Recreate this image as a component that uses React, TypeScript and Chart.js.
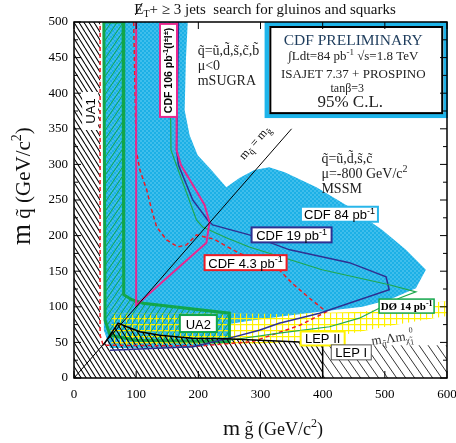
import React, { useEffect, useRef } from 'react';
import { Chart, registerables } from 'chart.js';
Chart.register(...registerables);

const X_TICKS = [0, 100, 200, 300, 400, 500, 600];
const Y_TICKS = [0, 50, 100, 150, 200, 250, 300, 350, 400, 450, 500];

// CDF 84 pb-1 excluded region (blue)
const CDF84_X = [48, 183, 180, 178, 186, 199, 221, 245, 266, 290, 314, 339, 390, 443, 496, 534, 566, 550, 507, 464, 395, 330, 280, 250, 250, 191, 58, 48, 48];
const CDF84_Y = [500, 500, 447, 376, 341, 313, 292, 268, 281, 292, 296, 289, 268, 240, 208, 180, 152, 126, 110, 100, 93, 86, 80, 76, 50, 43, 42, 67, 500];

// UA2 region (green hatch)
const UA2_X = [48, 79, 80, 93, 111, 250, 250, 98, 58, 50, 48];
const UA2_Y = [500, 500, 117, 110, 105, 91, 51, 53, 60, 81, 500];

// LEP II region (yellow grid)
const LEP2_X = [60, 60, 250, 330, 464, 544, 600, 600, 520, 443, 363, 300, 60];
const LEP2_Y = [46, 91, 91, 90, 93, 103, 108, 87, 75, 62, 52, 48, 46];

// UA1 + LEP I excluded (dense black hatch)
const UA1_X = [0, 0, 42, 42, 47, 71, 85, 106, 138, 191, 245, 326, 400, 400, 0];
const UA1_Y = [0, 500, 500, 46, 46, 77, 72, 65, 60, 56, 55, 52, 49, 0, 0];

// m_q < m_chi region (sparse hatch)
const CHI_X = [400, 400, 600, 600, 400];
const CHI_Y = [0, 46, 46, 0, 0];

// CDF 19 pb-1 contour
const CDF19_X = [168, 165, 168, 191, 215, 223, 282, 347, 443, 502, 507, 395, 330, 298, 250, 191, 58];
const CDF19_Y = [500, 320, 299, 250, 222, 215, 201, 180, 162, 142, 124, 91, 77, 67, 56, 44, 39];

// CDF 106 pb-1 (like-sign dileptons) contour
const CDF106_X = [100, 100, 146, 213, 218, 210, 196, 172, 165, 165];
const CDF106_Y = [500, 102, 138, 190, 219, 243, 264, 299, 320, 500];

// D0 14 pb-1 contour
const D0_X = [154, 156, 197, 207, 245, 282, 399, 507, 550, 523, 459, 411, 330, 250];
const D0_Y = [500, 320, 222, 212, 197, 184, 152, 131, 121, 112, 84, 72, 63, 53];

// CDF 4.3 pb-1 contour (dashed)
const CDF43_X = [96, 100, 106, 117, 125, 133, 149, 167, 181, 197, 225, 266, 306, 330, 351, 379, 406, 363, 287, 202, 47, 42, 42];
const CDF43_Y = [500, 320, 292, 264, 236, 212, 194, 184, 187, 201, 195, 175, 163, 152, 133, 112, 93, 74, 51, 45, 46, 60, 500];

// LEP squark/gluino boundary
const LEP_X = [47, 71, 85, 106, 138, 191, 245, 326, 400];
const LEP_Y = [46, 77, 72, 65, 60, 56, 55, 52, 49];
const LEP1_X = [400, 400];
const LEP1_Y = [0, 49];

// m_q = m_g diagonal
const DIAG_X = [0, 350];
const DIAG_Y = [0, 350];

const zip = (xs: number[], ys: number[]) => xs.map((x, i) => ({ x, y: ys[i] }));

const SERIF = "'Liberation Serif', 'Times New Roman', serif";
const SANS = "'Liberation Sans', Arial, sans-serif";

function mk(w: number, h: number) {
  const c = document.createElement('canvas');
  c.width = w; c.height = h;
  return [c, c.getContext('2d') as CanvasRenderingContext2D] as const;
}
function hatch(w: number, h: number, color: string, lw: number, dir: 'back' | 'fwd') {
  const [c, g] = mk(w, h);
  g.strokeStyle = color; g.lineWidth = lw;
  for (let k = -1; k <= 1; k++) {
    g.beginPath();
    if (dir === 'back') { g.moveTo(k * w, 0); g.lineTo(k * w + w, h); }
    else { g.moveTo(k * w, h); g.lineTo(k * w + w, 0); }
    g.stroke();
  }
  return g.createPattern(c, 'repeat') as CanvasPattern;
}
function gridPat(s: number, color: string, lw: number) {
  const [c, g] = mk(s, s);
  g.strokeStyle = color; g.lineWidth = lw;
  g.beginPath(); g.moveTo(0, 0.5); g.lineTo(s, 0.5); g.moveTo(0.5, 0); g.lineTo(0.5, s); g.stroke();
  return g.createPattern(c, 'repeat') as CanvasPattern;
}
function checker(a: string, b: string) {
  const [c, g] = mk(4, 4);
  g.fillStyle = a; g.fillRect(0, 0, 4, 4);
  g.fillStyle = b; g.fillRect(0, 0, 2, 2); g.fillRect(2, 2, 2, 2);
  return g.createPattern(c, 'repeat') as CanvasPattern;
}

type Seg = { t: string; s: number; dy?: number; w?: string; f?: string };
function measure(ctx: CanvasRenderingContext2D, segs: Seg[], fam: string) {
  return segs.reduce((acc, g) => { ctx.font = `${g.w ?? 'normal'} ${g.s}px ${g.f ?? fam}`; return acc + ctx.measureText(g.t).width; }, 0);
}
function rich(ctx: CanvasRenderingContext2D, segs: Seg[], x: number, y: number, align: 'left' | 'center', fam: string, color = '#000') {
  ctx.fillStyle = color;
  ctx.textAlign = 'left';
  ctx.textBaseline = 'alphabetic';
  const ws = segs.map(g => { ctx.font = `${g.w ?? 'normal'} ${g.s}px ${g.f ?? fam}`; return ctx.measureText(g.t).width; });
  const tot = ws.reduce((a, b) => a + b, 0);
  let cx = align === 'left' ? x : x - tot / 2;
  segs.forEach((g, i) => { ctx.font = `${g.w ?? 'normal'} ${g.s}px ${g.f ?? fam}`; ctx.fillText(g.t, cx, y + (g.dy ?? 0)); cx += ws[i]; });
  return tot;
}

const annot = {
  id: 'annot',
  afterDatasetsDraw(chart: any) {
    const { ctx, chartArea: a, scales } = chart;
    const X = (v: number) => scales.x.getPixelForValue(v);
    const Y = (v: number) => scales.y.getPixelForValue(v);
    ctx.save();

    const box = (cx: number, cy: number, w: number, h: number, stroke: string | null, lw = 2) => {
      ctx.fillStyle = '#fff';
      ctx.fillRect(cx - w / 2, cy - h / 2, w, h);
      if (stroke) { ctx.strokeStyle = stroke; ctx.lineWidth = lw; ctx.strokeRect(cx - w / 2, cy - h / 2, w, h); }
    };
    const pb = (txt: string, s: number, w = 'normal', f?: string): Seg[] => [
      { t: txt, s, w, f }, { t: '-1', s: Math.round(s * 0.7), dy: -s * 0.4, w, f },
    ];

    ctx.save();
    ctx.beginPath(); ctx.rect(a.left, a.top, a.right - a.left, a.bottom - a.top); ctx.clip();

    // CDF 84
    box(X(427), Y(230), 77, 15, '#29b6ea');
    rich(ctx, pb('CDF 84 pb', 13), X(427), Y(230) + 5, 'center', SANS);
    // CDF 19
    box(X(350), Y(201), 80, 15, '#2e3192');
    rich(ctx, pb('CDF 19 pb', 13), X(350), Y(201) + 5, 'center', SANS);
    // CDF 4.3
    box(X(276), Y(162), 82, 15, '#ed1c24');
    rich(ctx, pb('CDF 4.3 pb', 13), X(276), Y(162) + 5, 'center', SANS);
    // UA2
    box(X(200), Y(76.5), 37, 17, '#12a64b');
    rich(ctx, [{ t: 'UA2', s: 13 }], X(200), Y(76.5) + 5, 'center', SANS);
    // LEP II
    box(X(400), Y(55.5), 44, 14, '#fff200');
    rich(ctx, [{ t: 'LEP II', s: 13 }], X(400), Y(55.5) + 5, 'center', SANS);
    // LEP I
    box(X(446), Y(36), 40, 15, '#555', 1);
    rich(ctx, [{ t: 'LEP I', s: 13 }], X(446), Y(36) + 5, 'center', SANS);
    // D0
    box(X(535), Y(101), 55, 14, '#12a64b', 1.5);
    rich(ctx, pb('DØ 14 pb', 11, 'bold'), X(535), Y(101) + 4, 'center', SERIF);

    // UA1 rotated
    ctx.save();
    ctx.translate(X(26), Y(375)); ctx.rotate(-Math.PI / 2);
    box(0, 0, 38, 16, null);
    rich(ctx, [{ t: 'UA1', s: 13 }], 0, 5, 'center', SANS);
    ctx.restore();

    // CDF 106 rotated
    ctx.save();
    ctx.translate(X(152), Y(432)); ctx.rotate(-Math.PI / 2);
    box(0, 0, 93, 17, '#e8288f');
    rich(ctx, [
      { t: 'CDF 106 pb', s: 10.5, w: 'bold' }, { t: '-1', s: 7.5, dy: -4, w: 'bold' },
      { t: '(l', s: 10.5, w: 'bold' }, { t: '±', s: 7.5, dy: -4, w: 'bold' },
      { t: 'l', s: 10.5, w: 'bold' }, { t: '±', s: 7.5, dy: -4, w: 'bold' }, { t: ')', s: 10.5, w: 'bold' },
    ], 0, 4, 'center', SANS);
    ctx.restore();

    // diagonal label
    ctx.save();
    const ang = Math.atan2(Y(350) - Y(0), X(350) - X(0));
    ctx.translate(X(290), Y(331)); ctx.rotate(ang);
    rich(ctx, [{ t: 'm', s: 12 }, { t: 'q\u0303', s: 9, dy: 3 }, { t: ' = m', s: 12 }, { t: 'g\u0303', s: 9, dy: 3 }], 0, 4, 'center', SERIF);
    ctx.restore();

    // m_q < m_chi label
    ctx.save();
    ctx.translate(X(513), Y(56)); ctx.rotate(-0.14);
    const chiSegs: Seg[] = [{ t: 'm', s: 13 }, { t: 'q\u0303', s: 9, dy: 3 }, { t: 'Λm', s: 13 }, { t: 'χ\u0303', s: 9, dy: 3 }];
    const cw = measure(ctx, chiSegs, SERIF);
    const sx = -(cw + 5) / 2;
    rich(ctx, chiSegs, sx, 4, 'left', SERIF, '#333');
    ctx.font = `8px ${SERIF}`; ctx.fillStyle = '#333';
    ctx.fillText('0', sx + cw, -3); ctx.fillText('1', sx + cw, 9);
    ctx.restore();

    // text blocks
    const bl = (lines: Seg[][], xd: number, yd: number, step: number) => {
      lines.forEach((ln, i) => rich(ctx, ln, X(xd), Y(yd) + i * step, 'left', SERIF, '#222'));
    };
    bl([
      [{ t: 'q\u0303=u\u0303,d\u0303,s\u0303,c\u0303,b\u0303', s: 14 }],
      [{ t: 'μ<0', s: 14 }],
      [{ t: 'mSUGRA', s: 14 }],
    ], 199, 453, 15);
    bl([
      [{ t: 'q\u0303=u\u0303,d\u0303,s\u0303,c\u0303', s: 14 }],
      [{ t: 'μ=-800 GeV/c', s: 14 }, { t: '2', s: 10, dy: -6 }],
      [{ t: 'MSSM', s: 14 }],
    ], 398, 302, 15);

    ctx.restore(); // end clip

    // CDF PRELIMINARY box
    const L = X(306.5), T = Y(500), R = X(600) + 1, B = Y(365);
    ctx.fillStyle = '#fff'; ctx.fillRect(L, T, R - L, B - T);
    ctx.strokeStyle = '#1eb4ea'; ctx.lineWidth = 4.5;
    ctx.strokeRect(L + 2.3, T + 2.3, R - L - 4.6, B - T - 4.6);
    ctx.strokeStyle = '#000'; ctx.lineWidth = 2;
    ctx.strokeRect(L + 5.8, T + 5, R - L - 11.6, B - T - 10);
    const cx = (L + R) / 2 - 3;
    rich(ctx, [{ t: 'CDF PRELIMINARY', s: 15.5 }], cx, T + 23, 'center', SERIF, '#1d3c5c');
    rich(ctx, [{ t: '∫Ldt=84 pb', s: 13 }, { t: '-1', s: 9, dy: -5 }, { t: ' √s=1.8 TeV', s: 13 }], cx, T + 38, 'center', SERIF, '#222');
    rich(ctx, [{ t: 'ISAJET 7.37 + PROSPINO', s: 13 }], cx, T + 56, 'center', SERIF, '#222');
    rich(ctx, [{ t: 'tanβ=3', s: 12 }], cx - 6, T + 70, 'center', SERIF, '#222');
    rich(ctx, [{ t: '95% C.L.', s: 17 }], cx - 3, T + 85, 'center', SERIF, '#222');

    // frame and inner ticks
    ctx.strokeStyle = '#000'; ctx.lineWidth = 1.5;
    ctx.strokeRect(a.left, a.top, a.right - a.left, a.bottom - a.top);
    ctx.lineWidth = 1;
    ctx.beginPath();
    for (const v of X_TICKS) {
      const x = X(v);
      ctx.moveTo(x, a.bottom); ctx.lineTo(x, a.bottom - 7);
      ctx.moveTo(x, a.top); ctx.lineTo(x, a.top + 7);
    }
    for (let v = 0; v <= 500; v += 25) {
      const y = Y(v); const len = v % 50 === 0 ? 7 : 4;
      ctx.moveTo(a.left, y); ctx.lineTo(a.left + len, y);
      ctx.moveTo(a.right, y); ctx.lineTo(a.right - len, y);
    }
    ctx.stroke();

    // title
    const tw = rich(ctx, [{ t: 'E', s: 15 }, { t: 'T', s: 10, dy: 3 }, { t: '+ ≥ 3 jets  search for gluinos and squarks', s: 15 }], 265, 14, 'center', SERIF, '#111');
    const ex = 265 - tw / 2;
    ctx.strokeStyle = '#111'; ctx.lineWidth = 1;
    ctx.beginPath(); ctx.moveTo(ex + 1, 15); ctx.lineTo(ex + 8, 3); ctx.stroke();

    // x title
    rich(ctx, [{ t: 'm', s: 22 }, { t: ' g\u0303 ', s: 18 }, { t: '(GeV/c', s: 18 }, { t: '2', s: 12, dy: -8 }, { t: ')', s: 18 }], 223, 435, 'left', SERIF, '#111');
    // y title
    ctx.save();
    ctx.translate(30, 245); ctx.rotate(-Math.PI / 2);
    rich(ctx, [{ t: 'm', s: 27 }, { t: ' q\u0303 ', s: 21 }, { t: '(GeV/c', s: 21 }, { t: '2', s: 14, dy: -9 }, { t: ')', s: 21 }], 0, 0, 'left', SERIF, '#111');
    ctx.restore();

    ctx.restore();
  },
};

export default function App() {
  const ref = useRef<HTMLCanvasElement>(null);
  useEffect(() => {
    const canvas = ref.current!;
    const blue = checker('#1cb0e6', '#3fbeec');
    const yellow = gridPat(6, '#fff200', 1.3);
    const green = hatch(6, 9, '#12a64b', 1, 'fwd');
    const dense = hatch(5, 8, '#000', 1.1, 'back');
    const sparse = hatch(9, 13, '#000', 0.8, 'back');
    const clear = 'rgba(0,0,0,0)';
    const poly = (pts: any, bg: any, order: number, border = clear, bw = 1) => ({
      data: pts, showLine: true, pointRadius: 0, pointHoverRadius: 0, fill: 'shape',
      backgroundColor: bg, borderColor: border, borderWidth: bw, order,
    });
    const line = (pts: any, color: string, bw: number, order: number, dash: number[] = []) => ({
      data: pts, showLine: true, pointRadius: 0, pointHoverRadius: 0, fill: false,
      borderColor: color, borderWidth: bw, borderDash: dash, order,
    });
    const datasets: any[] = [
      poly(zip(CDF84_X, CDF84_Y), blue, 100),
      poly(zip(LEP2_X, LEP2_Y), yellow, 90),
      poly(zip(UA2_X, UA2_Y), green, 80, '#12a64b', 3),
      poly(zip(UA1_X, UA1_Y), dense, 70),
      poly(zip(CHI_X, CHI_Y), sparse, 69),
      line(zip(CDF43_X, CDF43_Y), '#ed1c24', 1.5, 50, [4, 3]),
      line(zip(CDF19_X, CDF19_Y), '#2e3192', 1.5, 45),
      line(zip(D0_X, D0_Y), '#1fa84f', 1.2, 44),
      line(zip(CDF106_X, CDF106_Y), '#e8288f', 2, 40),
      line(zip(LEP_X, LEP_Y), '#000', 1.5, 30),
      line(zip(LEP1_X, LEP1_Y), '#000', 1.5, 29),
      line(zip(DIAG_X, DIAG_Y), '#000', 1, 20),
    ];
    const tickFont = { family: SERIF, size: 13 };
    const chart = new Chart(canvas, {
      type: 'scatter',
      data: { datasets },
      options: {
        animation: false,
        responsive: false,
        devicePixelRatio: 1,
        events: [],
        layout: { padding: { top: 22, right: 9, left: 0, bottom: 0 } },
        plugins: { legend: { display: false }, tooltip: { enabled: false }, title: { display: false } },
        scales: {
          x: {
            type: 'linear', min: 0, max: 600,
            afterBuildTicks: (s: any) => { s.ticks = X_TICKS.map(v => ({ value: v })); },
            ticks: { font: tickFont, color: '#000', padding: 9, maxRotation: 0, autoSkip: false },
            grid: { display: false, drawTicks: false },
            border: { display: false },
            afterFit: (s: any) => { s.height = 65; s.paddingLeft = 0; s.paddingRight = 0; },
          },
          y: {
            type: 'linear', min: 0, max: 500,
            afterBuildTicks: (s: any) => { s.ticks = Y_TICKS.map(v => ({ value: v })); },
            ticks: { font: tickFont, color: '#000', padding: 6, autoSkip: false },
            grid: { display: false, drawTicks: false },
            border: { display: false },
            afterFit: (s: any) => { s.width = 74; s.paddingTop = 0; s.paddingBottom = 0; },
          },
        },
      } as any,
      plugins: [annot],
    });
    return () => chart.destroy();
  }, []);
  return (
    <div style={{ position: 'fixed', left: 0, top: 0, width: 456, height: 443, background: '#fff' }}>
      <canvas ref={ref} width={456} height={443} style={{ display: 'block' }} />
    </div>
  );
}
